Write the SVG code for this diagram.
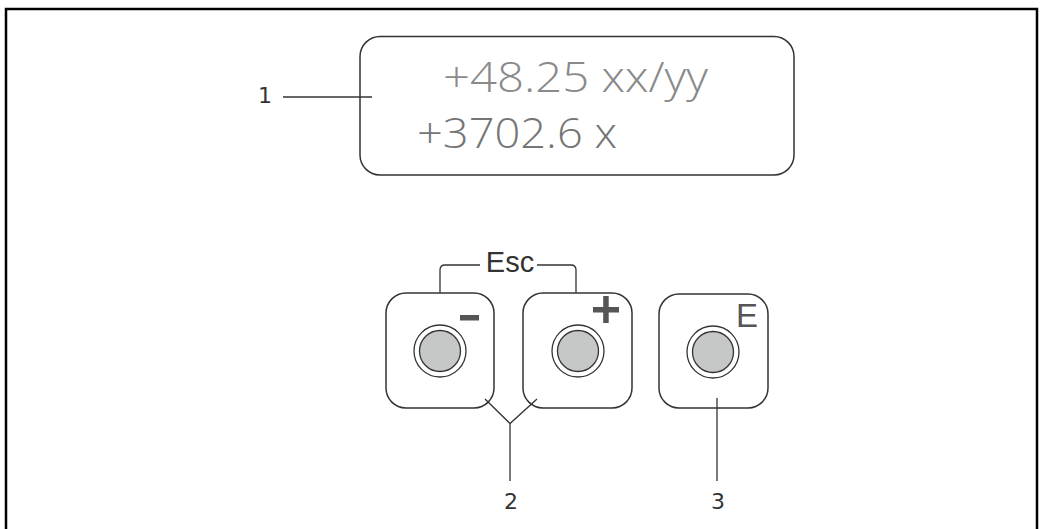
<svg xmlns="http://www.w3.org/2000/svg" width="1044" height="529" viewBox="0 0 1044 529">
<style>
.ln{fill:none;stroke:#333;stroke-width:1.3}
.key{fill:#fff;stroke:#333;stroke-width:1.5}
.ring{fill:#fff;stroke:#333;stroke-width:1.3}
.btn{fill:#c6c8c8;stroke:#333;stroke-width:1.3}
.num{font-family:"DejaVu Sans",sans-serif;font-size:22px;fill:#333;text-anchor:middle}
.disp{font-family:"Open Sans","Noto Sans",sans-serif;font-size:42px;font-weight:300}
.sym{fill:#555}
</style>
<rect x="0" y="0" width="1044" height="529" fill="#fff"/>
<path d="M6,540 V9 H1037 V540" fill="none" stroke="#000" stroke-width="2.5"/>
<g id="display">
<rect x="360" y="36.5" width="434" height="138.5" rx="20" fill="#fff" stroke="#333" stroke-width="1.5"/>
<text class="disp" x="443" y="91.5" fill="#8a8a8a" textLength="265" lengthAdjust="spacingAndGlyphs">+48.25 xx/yy</text>
<text class="disp" x="417" y="148" fill="#757575" textLength="200" lengthAdjust="spacingAndGlyphs">+3702.6 x</text>
</g>
<g id="key-minus">
<rect class="key" x="386" y="293" width="108" height="115" rx="20"/>
<circle class="ring" cx="440" cy="351" r="26"/>
<circle class="btn" cx="440" cy="351" r="20.5"/>
<rect class="sym" x="460" y="315" width="19" height="5.5"/>
</g>
<g id="key-plus">
<rect class="key" x="523" y="293" width="109" height="115" rx="20"/>
<circle class="ring" cx="578" cy="351" r="26"/>
<circle class="btn" cx="578" cy="351" r="20.5"/>
<rect class="sym" x="593" y="307" width="26" height="5.5"/>
<rect class="sym" x="603.2" y="296" width="5.5" height="27"/>
</g>
<g id="key-enter">
<rect class="key" x="659" y="294" width="109" height="114" rx="20"/>
<circle class="ring" cx="713" cy="352" r="26"/>
<circle class="btn" cx="713" cy="352" r="20.5"/>
<text x="747" y="327" font-family="Liberation Sans,Arial,sans-serif" font-size="33" fill="#555" text-anchor="middle">E</text>
</g>
<g id="esc">
<text x="510" y="272" font-family="Liberation Sans,Arial,sans-serif" font-size="29" fill="#333" text-anchor="middle">Esc</text>
</g>
<g id="connectors">
<path class="ln" d="M440,293 V270 Q440,265 445,265 H480"/>
<path class="ln" d="M537,265 H571 Q576,265 576,270 V293"/>
<path class="ln" d="M283,97 H372"/>
<path class="ln" d="M485,399 L510,423.5 L537,399 M510,423.5 V481"/>
<path class="ln" d="M717,398 V481"/>
</g>
<g id="labels">
<text class="num" x="265" y="103">1</text>
<text class="num" x="511" y="509">2</text>
<text class="num" x="718" y="509">3</text>
</g>
</svg>
